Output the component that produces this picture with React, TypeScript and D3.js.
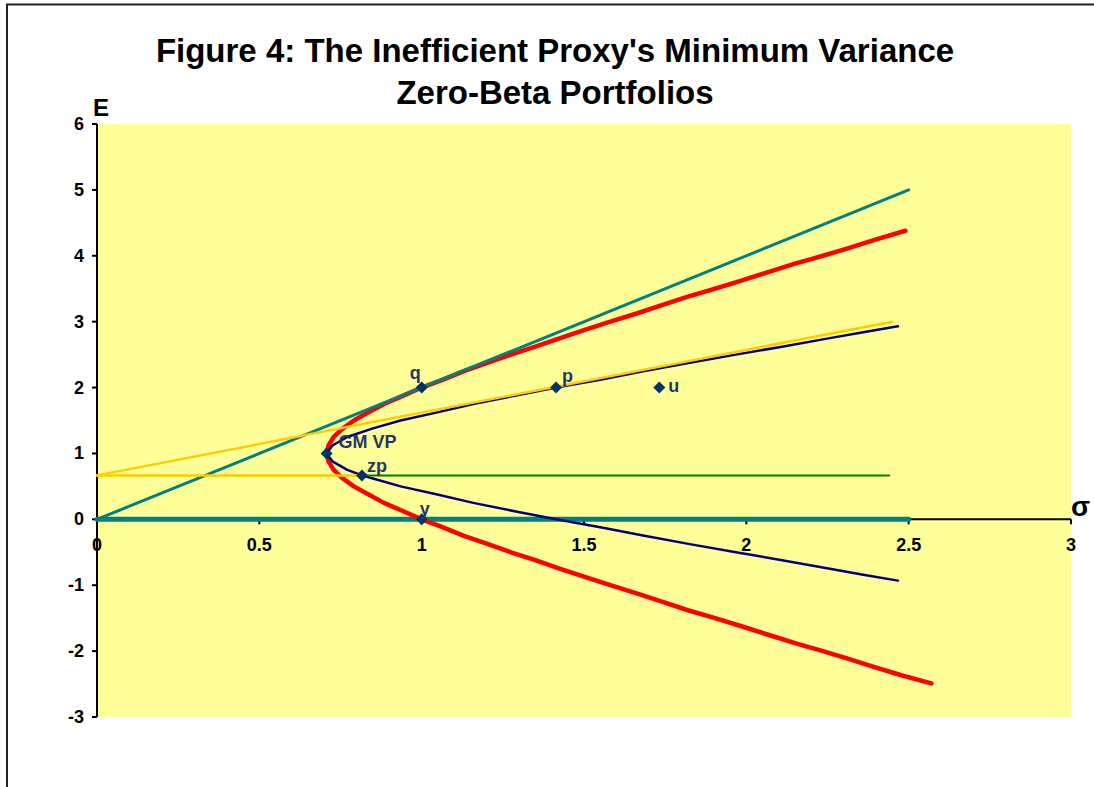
import React from 'react';
import * as d3 from 'd3';

// chart data (sigma, E)
const frontierSigma = [2.49, 2.40, 2.31, 2.236, 2.15, 2.06, 1.97, 1.904, 1.82, 1.74, 1.66, 1.581, 1.50, 1.42, 1.35, 1.275, 1.20, 1.13, 1.06, 1.0, 0.94, 0.884, 0.835, 0.791, 0.755, 0.729, 0.713, 0.707, 0.713, 0.729, 0.755, 0.791, 0.835, 0.884, 0.94, 1.0, 1.06, 1.13, 1.20, 1.275, 1.35, 1.42, 1.50, 1.581, 1.66, 1.74, 1.82, 1.904, 1.97, 2.06, 2.15, 2.236, 2.31, 2.40, 2.48, 2.57];
const frontierE = [4.38, 4.25, 4.11, 4.0, 3.88, 3.74, 3.60, 3.5, 3.38, 3.25, 3.12, 3.0, 2.87, 2.74, 2.62, 2.5, 2.37, 2.25, 2.11, 2.0, 1.87, 1.75, 1.62, 1.5, 1.37, 1.25, 1.12, 1.0, 0.88, 0.75, 0.63, 0.5, 0.38, 0.25, 0.13, 0.0, -0.11, -0.25, -0.37, -0.5, -0.62, -0.74, -0.87, -1.0, -1.12, -1.25, -1.38, -1.5, -1.60, -1.74, -1.88, -2.0, -2.11, -2.25, -2.37, -2.49];

const proxySigma = [2.467, 2.36, 2.257, 2.11, 1.968, 1.83, 1.686, 1.55, 1.414, 1.29, 1.159, 1.045, 0.935, 0.85, 0.771, 0.725, 0.707, 0.725, 0.771, 0.816, 0.85, 0.935, 1.045, 1.159, 1.29, 1.414, 1.55, 1.686, 1.83, 1.968, 2.11, 2.257, 2.36, 2.467];
const proxyE = [2.93, 2.84, 2.75, 2.62, 2.5, 2.38, 2.25, 2.12, 2.0, 1.88, 1.75, 1.62, 1.5, 1.38, 1.25, 1.12, 1.0, 0.88, 0.75, 0.667, 0.62, 0.5, 0.38, 0.25, 0.12, 0.0, -0.12, -0.25, -0.38, -0.5, -0.62, -0.75, -0.84, -0.93];

const tangentQSigma = [0, 2.5];
const tangentQE = [0, 5];
const zeroLineSigma = [0, 2.5];
const zeroLineE = [0, 0];
const tangentPSigma = [0, 2.45];
const tangentPE = [0.667, 3.0];
const zpLeftSigma = [0, 0.816];
const zpLeftE = [0.667, 0.667];
const zpRightSigma = [0.816, 2.44];
const zpRightE = [0.667, 0.667];

const pointNames = ['GM VP', 'q', 'p', 'u', 'zp', 'y'];
const pointSigma = [0.707, 1.0, 1.414, 1.732, 0.816, 1.0];
const pointE = [1.0, 2.0, 2.0, 2.0, 0.667, 0.0];

const xTicks = [0, 0.5, 1, 1.5, 2, 2.5, 3];
const yTicks = [-3, -2, -1, 0, 1, 2, 3, 4, 5, 6];

// label placement relative to the marker (px)
const labelOffset: Record<string, [number, number]> = {
  'GM VP': [12, -5],
  q: [-12, -9],
  p: [6, -6],
  u: [9, 4],
  zp: [5, -3],
  y: [-2, -4],
};

const W = 1094;
const H = 787;
const plot = { left: 97, right: 1071, top: 124, bottom: 717 };
const FONT = 'Arial, "Liberation Sans", Helvetica, sans-serif';

const zip = (xs: number[], ys: number[]) => xs.map((x, i) => [x, ys[i]] as [number, number]);

export default function App() {
  const x = d3.scaleLinear().domain([0, 3]).range([plot.left, plot.right]);
  const y = d3.scaleLinear().domain([-3, 6]).range([plot.bottom, plot.top]);
  const line = d3.line<[number, number]>().x(d => x(d[0])).y(d => y(d[1])).curve(d3.curveLinear);
  const diamond = d3.symbol().type(d3.symbolSquare).size(72)();
  const y0 = y(0);

  const series = [
    { key: 'zero', d: line(zip(zeroLineSigma, zeroLineE)), color: '#008080', w: 5 },
    { key: 'frontier', d: line(zip(frontierSigma, frontierE)), color: '#FF0000', w: 4.5 },
    { key: 'tanq', d: line(zip(tangentQSigma, tangentQE)), color: '#008080', w: 3 },
    { key: 'proxy', d: line(zip(proxySigma, proxyE)), color: '#000080', w: 2.5 },
    { key: 'tanp', d: line(zip(tangentPSigma, tangentPE)), color: '#FFCC00', w: 2.5 },
    { key: 'zpl', d: line(zip(zpLeftSigma, zpLeftE)), color: '#FFCC00', w: 2.5 },
    { key: 'zpr', d: line(zip(zpRightSigma, zpRightE)), color: '#008000', w: 2 },
  ];

  return (
    <svg
      width={W}
      height={H}
      style={{ position: 'absolute', left: 0, top: 0, background: '#fff' }}
      fontFamily={FONT}
    >
      <rect x={7} y={4.5} width={W + 20} height={H + 20} fill="#fff" stroke="#222" strokeWidth={2} />

      <text x={555} y={62} textAnchor="middle" fontSize={33} fontWeight="bold" fill="#000">
        Figure 4: The Inefficient Proxy's Minimum Variance
      </text>
      <text x={555} y={104} textAnchor="middle" fontSize={33} fontWeight="bold" fill="#000">
        Zero-Beta Portfolios
      </text>

      <rect
        x={plot.left}
        y={plot.top}
        width={plot.right - plot.left}
        height={plot.bottom - plot.top}
        fill="#FFFF99"
      />

      {/* y axis */}
      <line x1={plot.left} x2={plot.left} y1={plot.top} y2={plot.bottom} stroke="#000" strokeWidth={2} />
      {yTicks.map(t => (
        <g key={'y' + t}>
          <line x1={plot.left - 5} x2={plot.left} y1={y(t)} y2={y(t)} stroke="#000" strokeWidth={2} />
          <text x={plot.left - 13} y={y(t) + 6} textAnchor="end" fontSize={18} fontWeight="bold">
            {t}
          </text>
        </g>
      ))}

      {/* x axis at E = 0 */}
      <line x1={plot.left} x2={plot.right} y1={y0} y2={y0} stroke="#000" strokeWidth={2} />
      {xTicks.map(t => (
        <g key={'x' + t}>
          <line x1={x(t)} x2={x(t)} y1={y0} y2={y0 + 5} stroke="#000" strokeWidth={2} />
          <text x={x(t)} y={y0 + 32} textAnchor="middle" fontSize={18} fontWeight="bold">
            {t}
          </text>
        </g>
      ))}

      <text x={93} y={116} fontSize={24} fontWeight="bold">E</text>
      <text x={1071} y={516} fontSize={28} fontWeight="bold">σ</text>

      {series.map(s => (
        <path
          key={s.key}
          d={s.d || ''}
          fill="none"
          stroke={s.color}
          strokeWidth={s.w}
          strokeLinejoin="round"
          strokeLinecap="round"
        />
      ))}

      {pointNames.map((name, i) => {
        const px = x(pointSigma[i]);
        const py = y(pointE[i]);
        const [dx, dy] = labelOffset[name];
        return (
          <g key={name}>
            <path d={diamond || ''} transform={`translate(${px},${py}) rotate(45)`} fill="#003366" />
            <text x={px + dx} y={py + dy} fontSize={18} fontWeight="bold" fill="#1F3864">
              {name}
            </text>
          </g>
        );
      })}
    </svg>
  );
}
